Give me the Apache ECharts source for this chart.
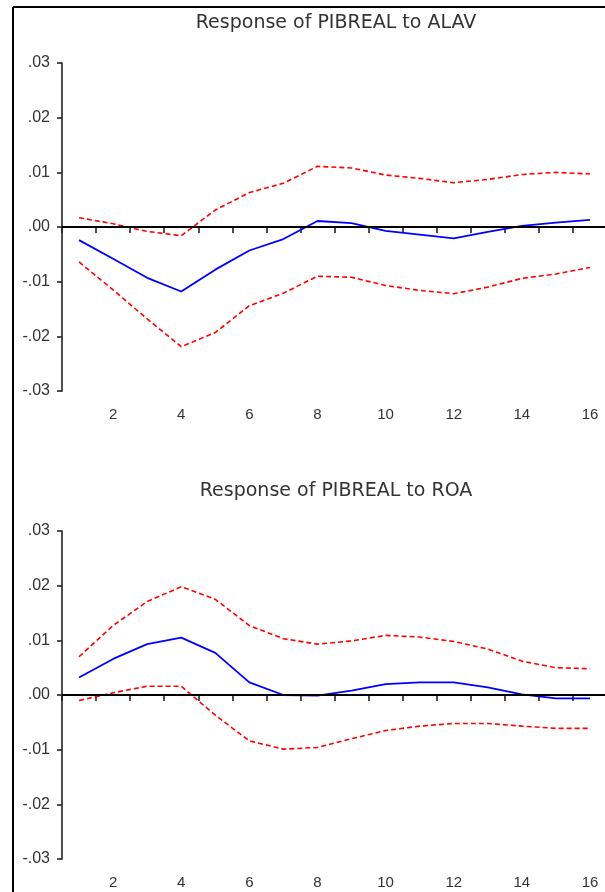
<!DOCTYPE html>
<html>
<head>
<meta charset="utf-8">
<title>Impulse responses of PIBREAL</title>
<script src="https://cdn.jsdelivr.net/npm/echarts@6/dist/echarts.min.js"></script>
<style>
    html, body { margin: 0; padding: 0; background: #fff; }
    #chart { width: 605px; height: 892px; }
</style>
</head>
<body>
<div id="chart"></div>
<script>
// periods on the x axis
var periods = ['1', '2', '3', '4', '5', '6', '7', '8', '9', '10', '11', '12', '13', '14', '15', '16'];

// Response of PIBREAL to ALAV
var alavResp = [-0.0024, -0.0058, -0.0093, -0.0118, -0.0078, -0.0043, -0.0022, 0.0011, 0.0007, -0.0007, -0.0014, -0.0021, -0.0009, 0.0002, 0.0008, 0.0013];
var alavUpper = [0.0017, 0.0006, -0.0008, -0.0016, 0.0031, 0.0063, 0.0080, 0.0111, 0.0108, 0.0095, 0.0089, 0.0081, 0.0087, 0.0096, 0.0100, 0.0097];
var alavLower = [-0.0064, -0.0115, -0.0168, -0.0219, -0.0193, -0.0144, -0.0121, -0.0090, -0.0092, -0.0107, -0.0116, -0.0122, -0.0110, -0.0094, -0.0086, -0.0074];

// Response of PIBREAL to ROA
var roaResp = [0.0032, 0.0066, 0.0093, 0.0105, 0.0077, 0.0023, 0.0000, -0.0001, 0.0008, 0.0020, 0.0023, 0.0023, 0.0014, 0.0001, -0.0006, -0.0006];
var roaUpper = [0.0070, 0.0127, 0.0171, 0.0198, 0.0175, 0.0127, 0.0103, 0.0093, 0.0099, 0.0109, 0.0106, 0.0098, 0.0084, 0.0062, 0.0050, 0.0048];
var roaLower = [-0.0010, 0.0004, 0.0016, 0.0016, -0.0037, -0.0084, -0.0099, -0.0096, -0.0080, -0.0065, -0.0057, -0.0052, -0.0052, -0.0057, -0.0061, -0.0061];

var titles = ['Response of PIBREAL to ALAV', 'Response of PIBREAL to ROA'];

var font = '"Liberation Sans", Arial, sans-serif';

// .03 / -.01 style labels
function fmtTick(v) {
    var s = (Math.round(v * 100) / 100).toFixed(2);
    if (s === '-0.00') s = '0.00';
    return s.replace('0.', '.');
}

var myChart = echarts.init(document.getElementById('chart'));

var panelTop = [63, 531];
var grids = [], xAxes = [], yAxes = [], series = [], titleList = [];

var panels = [
    { resp: alavResp, upper: alavUpper, lower: alavLower },
    { resp: roaResp, upper: roaUpper, lower: roaLower }
];

panels.forEach(function (p, i) {
    titleList.push({
        text: titles[i],
        left: 336,
        top: panelTop[i] - 49,
        textAlign: 'center',
        padding: 0,
        textStyle: { fontFamily: '"DejaVu Sans", sans-serif', fontSize: 19, fontWeight: 'normal', color: '#333' }
    });
    grids.push({ left: 62, top: panelTop[i], width: 545, height: 328, outerBoundsMode: 'none' });
    xAxes.push({
        type: 'category',
        gridIndex: i,
        data: periods,
        boundaryGap: true,
        axisLine: { lineStyle: { color: '#222', width: 1.6 } },
        axisTick: { show: true, interval: 0, length: 6, lineStyle: { color: '#222', width: 1.6 } },
        axisLabel: {
            interval: function (idx) { return idx % 2 === 1; },
            margin: 16,
            fontFamily: font,
            fontSize: 15,
            color: '#333'
        },
        splitLine: { show: false }
    });
    yAxes.push({
        type: 'value',
        gridIndex: i,
        min: -0.03,
        max: 0.03,
        interval: 0.01,
        axisLine: { show: true, lineStyle: { color: '#222', width: 1.6 } },
        axisTick: { show: true, length: 5, lineStyle: { color: '#222', width: 1.6 } },
        axisLabel: {
            formatter: fmtTick,
            margin: 12,
            fontFamily: font,
            fontSize: 16,
            color: '#333'
        },
        splitLine: { show: false }
    });
    // confidence bands
    series.push({
        type: 'line', xAxisIndex: i, yAxisIndex: i, data: p.upper,
        symbol: 'none', silent: true,
        lineStyle: { color: '#ff0000', width: 1.6, type: [5, 3] }
    });
    series.push({
        type: 'line', xAxisIndex: i, yAxisIndex: i, data: p.lower,
        symbol: 'none', silent: true,
        lineStyle: { color: '#ff0000', width: 1.6, type: [5, 3] }
    });
    // impulse response + zero line
    series.push({
        type: 'line', xAxisIndex: i, yAxisIndex: i, data: p.resp,
        symbol: 'none', silent: true, z: 3,
        lineStyle: { color: '#0000ff', width: 1.8 },
        markLine: {
            silent: true,
            symbol: 'none',
            label: { show: false },
            lineStyle: { color: '#000', width: 1.8, type: 'solid' },
            data: [{ yAxis: 0 }]
        }
    });
});

var option = {
    backgroundColor: '#fff',
    animation: false,
    title: titleList,
    grid: grids,
    xAxis: xAxes,
    yAxis: yAxes,
    series: series,
    // frame of the picture (left and top edges)
    graphic: [
        { type: 'line', shape: { x1: 13, y1: 7, x2: 13, y2: 892 }, style: { stroke: '#000', lineWidth: 2 } },
        { type: 'line', shape: { x1: 13, y1: 7, x2: 605, y2: 7 }, style: { stroke: '#000', lineWidth: 2 } }
    ]
};

myChart.setOption(option);
</script>
</body>
</html>
